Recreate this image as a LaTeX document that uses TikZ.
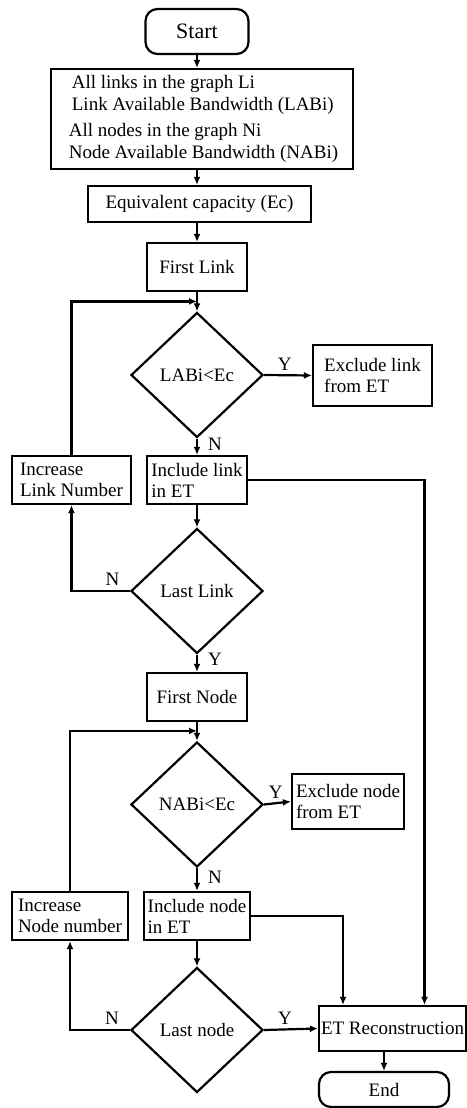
\documentclass[tikz,border=0pt]{standalone}
\usepackage{fontspec}
\setmainfont{Liberation Serif}
\usetikzlibrary{shapes.geometric,arrows.meta,calc}

\begin{document}
\begin{tikzpicture}[x=1pt,y=-1pt,
  font=\fontsize{19}{21}\selectfont,
  line width=2.2pt,
  box/.style={draw, rectangle, align=left, inner sep=2pt},
  term/.style={draw, rectangle, rounded corners=12pt, align=center},
  decision/.style={draw, diamond, minimum width=132pt, minimum height=125pt, inner sep=0pt},
  arr/.style={-{Latex[length=8pt,width=7pt]}},
  lbl/.style={inner sep=2pt}]
  \useasboundingbox (0,0) rectangle (466,1108);

  % Start and inputs
  \node[term, minimum width=103pt, minimum height=45pt, font=\fontsize{22}{24}\selectfont] (start) at (197,31.5) {Start};
  \node[box, minimum width=302pt, minimum height=100pt] (info) at (202,119)
    {\hspace*{6pt}All links in the graph Li\\[1pt] \hspace*{6pt}Link Available Bandwidth (LABi)\\[5pt]
     \hspace*{3pt}All nodes in the graph Ni\\[1pt] \hspace*{3pt}Node Available Bandwidth (NABi)};
  \node[box, minimum width=223pt, minimum height=36pt] (equiv) at (199.5,204) {Equivalent capacity (Ec)};

  % Link loop
  \node[box, minimum width=100pt, minimum height=48pt] (flink) at (197,267) {First Link};
  \node[decision] (dlab) at (197,375) {LABi<Ec};
  \node[box, minimum width=119pt, minimum height=61pt] (exlink) at (372.5,375.5) {Exclude link\\from ET};
  \node[box, minimum width=100pt, minimum height=48pt] (inclink) at (197,480) {Include link\\in ET};
  \node[box, minimum width=119pt, minimum height=48pt] (inclnum) at (71.5,480) {Increase\\Link Number};
  \node[decision] (dlast) at (197,591) {Last Link};

  % Node loop
  \node[box, minimum width=100pt, minimum height=48pt] (fnode) at (197,697) {First Node};
  \node[decision] (dnab) at (197,804.5) {NABi<Ec};
  \node[box, minimum width=112pt, minimum height=55pt] (exnode) at (348,801.5) {Exclude node\\from ET};
  \node[box, minimum width=106pt, minimum height=48pt] (incnode) at (197,916) {Include node\\in ET};
  \node[box, minimum width=116pt, minimum height=48pt] (incnnum) at (70,916) {Increase\\Node number};
  \node[decision] (dlastn) at (197,1030) {Last node};

  % Reconstruction and end
  \node[box, minimum width=147pt, minimum height=45pt] (etrec) at (392.5,1028.5) {ET Reconstruction};
  \node[term, minimum width=130pt, minimum height=35pt] (end) at (384,1089.5) {End};

  \coordinate (loopa) at ($(dlab.north)+(0,-10)$);
  \coordinate (loopb) at ($(dnab.north)+(0,-10)$);

  % Main column
  \draw[arr] (start) -- (info.north -| start);
  \draw[arr] (info.south -| start) -- (equiv.north -| start);
  \draw[arr] (equiv.south -| start) -- (flink);
  \draw[arr] (flink) -- (dlab);
  \draw[arr] (dlab.east) -- node[lbl, above=2pt, pos=0.43] (ya) {Y} (exlink.west);
  \draw[arr] (dlab.south) -- node[lbl, right=8pt, pos=0.37] (na) {N} (inclink.north);
  \draw[arr] (inclink) -- (dlast);
  \draw[arr] (dlast.west) -| node[lbl, above=2pt, pos=0.15] (nb) {N} (inclnum.south);
  \draw[arr] (inclnum.north) |- (loopa);
  \draw[arr] (dlast.south) -- node[lbl, right=8pt, pos=0.27] (yb) {Y} (fnode.north);
  \draw[arr] (fnode) -- (dnab);
  \draw[arr] (dnab.east) -- node[lbl, above=2pt, pos=0.43] (yc) {Y} (exnode.west);
  \draw[arr] (dnab.south) -- node[lbl, right=8pt, pos=0.4] (nc) {N} (incnode.north);
  \draw[arr] (incnode) -- (dlastn);
  \draw[arr] (dlastn.west) -| node[lbl, above=2pt, pos=0.15] (nd) {N} (incnnum.south);
  \draw[arr] (incnnum.north) |- (loopb);
  \draw[arr] (dlastn.east) -- node[lbl, above=2pt, pos=0.39] (yd) {Y} (etrec.west);

  % Into reconstruction
  \draw[arr] (inclink.east) -| ([xshift=32pt]etrec.north);
  \draw[arr] (incnode.east) -| ([xshift=-49.5pt]etrec.north);
  \draw[arr] (etrec.south -| end.north) -- (end.north);
\end{tikzpicture}
\end{document}
